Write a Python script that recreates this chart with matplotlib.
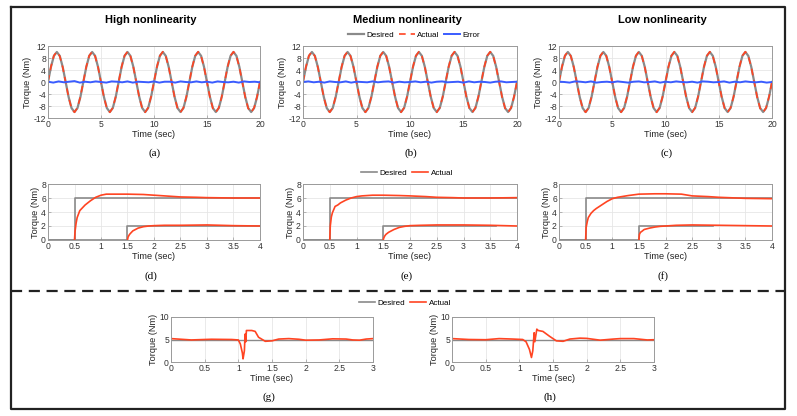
import matplotlib.pyplot as plt
from matplotlib.lines import Line2D
import numpy as np

# ---- data ----
# sinusoidal tracking (a)-(c), 12 samples per period, 6 periods over 20 s
sine_time = np.linspace(0, 20, 73)
sine_desired = [0, 5.0, 8.7, 10, 8.7, 5.0, 0, -5.0, -8.7, -10, -8.7, -5.0,
                0, 5.0, 8.7, 10, 8.7, 5.0, 0, -5.0, -8.7, -10, -8.7, -5.0,
                0, 5.0, 8.7, 10, 8.7, 5.0, 0, -5.0, -8.7, -10, -8.7, -5.0,
                0, 5.0, 8.7, 10, 8.7, 5.0, 0, -5.0, -8.7, -10, -8.7, -5.0,
                0, 5.0, 8.7, 10, 8.7, 5.0, 0, -5.0, -8.7, -10, -8.7, -5.0,
                0, 5.0, 8.7, 10, 8.7, 5.0, 0, -5.0, -8.7, -10, -8.7, -5.0, 0]
sine_actual = [0.1, 5.1, 8.8, 10.1, 8.6, 4.9, -0.1, -5.1, -8.8, -10.1, -8.6, -4.9,
               0.1, 5.1, 8.8, 10.1, 8.6, 4.9, -0.1, -5.1, -8.8, -10.1, -8.6, -4.9,
               0.1, 5.1, 8.8, 10.1, 8.6, 4.9, -0.1, -5.1, -8.8, -10.1, -8.6, -4.9,
               0.1, 5.1, 8.8, 10.1, 8.6, 4.9, -0.1, -5.1, -8.8, -10.1, -8.6, -4.9,
               0.1, 5.1, 8.8, 10.1, 8.6, 4.9, -0.1, -5.1, -8.8, -10.1, -8.6, -4.9,
               0.1, 5.1, 8.8, 10.1, 8.6, 4.9, -0.1, -5.1, -8.8, -10.1, -8.6, -4.9, 0.1]
error_time = np.linspace(0, 20, 41)
sine_error = {
    "a": [0.1, -0.2, 0.2, -0.1, 0.1, 0.3, -0.2, 0.1, -0.1, 0.2, 0.0, -0.2, 0.2, 0.1,
          -0.1, 0.2, -0.2, 0.1, 0.0, -0.1, 0.2, -0.2, 0.1, 0.1, -0.2, 0.2, 0.0, -0.1,
          0.2, -0.1, 0.1, -0.2, 0.2, 0.0, -0.1, 0.1, -0.2, 0.2, 0.0, 0.1, -0.1],
    "b": [0.0, 0.2, -0.1, 0.1, -0.2, 0.2, 0.0, -0.1, 0.2, -0.2, 0.1, 0.0, -0.1, 0.2,
          -0.1, 0.1, 0.2, -0.2, 0.1, -0.1, 0.0, 0.2, -0.1, 0.1, -0.2, 0.1, 0.2, -0.1,
          0.0, 0.1, -0.2, 0.2, -0.1, 0.1, 0.0, -0.2, 0.1, 0.2, -0.1, 0.0, 0.1],
    "c": [0.1, 0.0, -0.2, 0.2, 0.1, -0.1, 0.2, -0.2, 0.0, 0.1, -0.1, 0.2, 0.0, -0.2,
          0.1, 0.2, -0.1, 0.0, 0.2, -0.2, 0.1, -0.1, 0.2, 0.0, -0.1, 0.1, -0.2, 0.2,
          0.1, -0.1, 0.0, 0.2, -0.2, 0.1, -0.1, 0.2, 0.0, -0.1, 0.1, -0.2, 0.0],
}

# step responses (d)-(f)
step6_t = [0, 0.5, 0.5, 4.0]
step6_y = [0, 0, 6, 6]
step2_end = {"d": 4.0, "e": 3.6, "f": 2.9}
step2_t0 = [0, 1.5, 1.5]
step2_y = [0, 0, 2, 2]

resp6_t = [0.5, 0.51, 0.53, 0.55, 0.6, 0.65, 0.7, 0.8, 0.9, 1.0, 1.1, 1.3, 1.5, 1.8,
           2.0, 2.3, 2.5, 2.8, 3.0, 3.5, 4.0]
resp6 = {
    "d": [0, 1.2, 2.4, 3.2, 4.2, 4.6, 5.0, 5.6, 6.1, 6.4, 6.55, 6.55, 6.55, 6.5,
          6.4, 6.25, 6.15, 6.1, 6.05, 6.0, 6.0],
    "e": [0, 2.0, 3.3, 3.9, 4.8, 5.0, 5.3, 5.7, 6.0, 6.2, 6.3, 6.4, 6.4, 6.35,
          6.3, 6.2, 6.1, 6.05, 6.0, 6.0, 6.05],
    "f": [0, 1.8, 2.6, 3.2, 3.8, 4.2, 4.5, 5.0, 5.5, 5.9, 6.1, 6.35, 6.55, 6.6,
          6.6, 6.55, 6.3, 6.2, 6.1, 5.95, 5.9],
}
resp2_t = [1.5, 1.51, 1.53, 1.55, 1.6, 1.7, 1.8, 1.9, 2.0, 2.2, 2.5, 3.0, 3.5, 4.0]
resp2 = {
    "d": [0, 0.4, 0.7, 0.9, 1.3, 1.7, 1.9, 2.0, 2.05, 2.1, 2.1, 2.15, 2.05, 2.0],
    "e": [0, 0.3, 0.6, 0.8, 1.1, 1.5, 1.8, 1.95, 2.05, 2.1, 2.15, 2.15, 2.1, 2.0],
    "f": [0, 0.8, 1.1, 1.2, 1.5, 1.7, 1.85, 1.95, 2.0, 2.1, 2.15, 2.1, 2.05, 2.0],
}

# disturbance rejection (g)-(h)
dist_desired_t = [0, 3]
dist_desired_y = [5, 5]
dist_t = {
    "g": [0, 0.3, 0.6, 0.9, 1.0, 1.03, 1.06, 1.07, 1.09, 1.10, 1.11, 1.12, 1.2, 1.25,
          1.3, 1.4, 1.5, 1.6, 1.75, 1.9, 2.0, 2.2, 2.4, 2.6, 2.7, 2.8, 2.9, 3.0],
    "h": [0, 0.25, 0.5, 0.7, 0.9, 1.05, 1.1, 1.15, 1.18, 1.2, 1.22, 1.23, 1.26, 1.28,
          1.35, 1.45, 1.55, 1.65, 1.75, 1.9, 2.0, 2.2, 2.4, 2.5, 2.7, 2.9, 3.0],
}
dist_y = {
    "g": [5.2, 4.9, 5.05, 5.0, 4.9, 4.0, 2.0, 0.7, 2.5, 6.2, 4.5, 7.0, 7.0, 6.8,
          5.5, 4.6, 4.7, 5.1, 5.2, 5.05, 4.85, 4.9, 5.15, 5.1, 4.9, 4.85, 5.1, 5.2],
    "h": [5.2, 5.0, 4.95, 5.2, 5.1, 5.0, 4.5, 2.8, 1.0, 2.5, 6.5, 4.5, 7.3, 7.0,
          6.8, 5.7, 4.7, 4.6, 5.1, 5.3, 5.25, 4.85, 5.1, 5.2, 5.2, 4.9, 4.95],
}

titles = ["High nonlinearity", "Medium nonlinearity", "Low nonlinearity"]

GRAY = "#8a8a8a"
RED = "#ff4422"
BLUE = "#3a5cff"
W, H = 797, 416

plt.rcParams['font.family'] = ['Liberation Sans', 'DejaVu Sans']
plt.rcParams['axes.unicode_minus'] = False
fig = plt.figure(figsize=(W / 100, H / 100), dpi=100)


def px_axes(x0, y0, x1, y1):
    # pixel box (top-left origin) -> figure axes
    return fig.add_axes([x0 / W, 1 - y1 / H, (x1 - x0) / W, (y1 - y0) / H])


def style(ax):
    ax.grid(True, color="#e6e6e6", lw=0.6)
    ax.set_axisbelow(True)
    for s in ax.spines.values():
        s.set_color("#9a9a9a")
        s.set_linewidth(0.7)
    ax.tick_params(direction="in", length=2, width=0.5, labelsize=6.2,
                   colors="#9a9a9a", labelcolor="#333333", pad=1.5)
    ax.set_xlabel("Time (sec)", fontsize=6.6, labelpad=1, color="#222222")
    ax.set_ylabel("Torque (Nm)", fontsize=6.6, labelpad=1, color="#222222")


def fig_text(x, y, s, **kw):
    fig.text(x / W, 1 - y / H, s, ha="center", va="center", **kw)


leg_kw = dict(loc="center", frameon=False, fontsize=5.8, handlelength=2.0,
              handletextpad=0.3, columnspacing=0.6, borderpad=0)

# top row
top_x = [(48, 260), (303, 517), (559, 772)]
for k, key in enumerate(["a", "b", "c"]):
    ax = px_axes(top_x[k][0], 46, top_x[k][1], 118)
    ax.plot(sine_time, sine_desired, color=GRAY, lw=1.6, label="Desired")
    ax.plot(sine_time, sine_actual, color=RED, lw=1.2, ls=(0, (4, 3)), label="Actual")
    ax.plot(error_time, sine_error[key], color=BLUE, lw=1.4, label="Error")
    ax.set_xlim(0, 20)
    ax.set_ylim(-12, 12)
    ax.set_xticks([0, 5, 10, 15, 20])
    ax.set_yticks(np.arange(-12, 13, 4))
    style(ax)
    fig_text((top_x[k][0] + top_x[k][1]) / 2 - 3, 20, titles[k], fontsize=8, fontweight="bold")
    fig_text((top_x[k][0] + top_x[k][1]) / 2 + 1, 153, f"({key})", fontsize=8,
             family=["Liberation Serif"])

h_top = [Line2D([], [], color=GRAY, lw=1.6), Line2D([], [], color=RED, lw=1.2, ls=(0, (4, 3))),
         Line2D([], [], color=BLUE, lw=1.4)]
fig.legend(h_top, ["Desired", "Actual", "Error"], bbox_to_anchor=(414 / W, 1 - 35 / H),
           ncol=3, **leg_kw)

# middle row
for k, key in enumerate(["d", "e", "f"]):
    ax = px_axes(top_x[k][0], 184, top_x[k][1], 240)
    ax.plot(step6_t, step6_y, color=GRAY, lw=1.2)
    ax.plot(step2_t0 + [step2_end[key]], step2_y, color=GRAY, lw=1.2)
    ax.plot(resp6_t, resp6[key], color=RED, lw=1.2)
    ax.plot(resp2_t, resp2[key], color=RED, lw=1.2)
    ax.set_xlim(0, 4)
    ax.set_ylim(0, 8)
    ax.set_xticks(np.arange(0, 4.01, 0.5))
    ax.set_xticklabels(["0", "0.5", "1", "1.5", "2", "2.5", "3", "3.5", "4"])
    ax.set_yticks([0, 2, 4, 6, 8])
    style(ax)
    fig_text((top_x[k][0] + top_x[k][1]) / 2 - 3, 276, f"({key})", fontsize=8,
             family=["Liberation Serif"])

h_mid = [Line2D([], [], color=GRAY, lw=1.2), Line2D([], [], color=RED, lw=1.2)]
fig.legend(h_mid, ["Desired", "Actual"], bbox_to_anchor=(407 / W, 1 - 173 / H),
           ncol=2, **leg_kw)

# bottom row
bot_x = [(171, 373), (452, 654)]
for k, key in enumerate(["g", "h"]):
    ax = px_axes(bot_x[k][0], 317, bot_x[k][1], 362)
    ax.plot(dist_desired_t, dist_desired_y, color=GRAY, lw=1.0)
    ax.plot(dist_t[key], dist_y[key], color=RED, lw=1.2)
    ax.set_xlim(0, 3)
    ax.set_ylim(0, 10)
    ax.set_xticks(np.arange(0, 3.01, 0.5))
    ax.set_xticklabels(["0", "0.5", "1", "1.5", "2", "2.5", "3"])
    ax.set_yticks([0, 5, 10])
    style(ax)
    fig_text((bot_x[k][0] + bot_x[k][1]) / 2 - 3, 397, f"({key})", fontsize=8,
             family=["Liberation Serif"])

fig.legend(h_mid, ["Desired", "Actual"], bbox_to_anchor=(405 / W, 1 - 303 / H),
           ncol=2, **leg_kw)

# outer frame and dashed separator
fx0, fx1, fy0, fy1 = 11 / W, 785 / W, 1 - 7 / H, 1 - 409 / H
fig.add_artist(Line2D([fx0, fx1, fx1, fx0, fx0], [fy0, fy0, fy1, fy1, fy0],
                      color="#222222", lw=1.6, transform=fig.transFigure))
fig.add_artist(Line2D([fx0, fx1], [1 - 291 / H, 1 - 291 / H], color="#222222", lw=1.6,
                      ls=(0, (5, 3)), transform=fig.transFigure))

fig.savefig("out.png", dpi=100)
